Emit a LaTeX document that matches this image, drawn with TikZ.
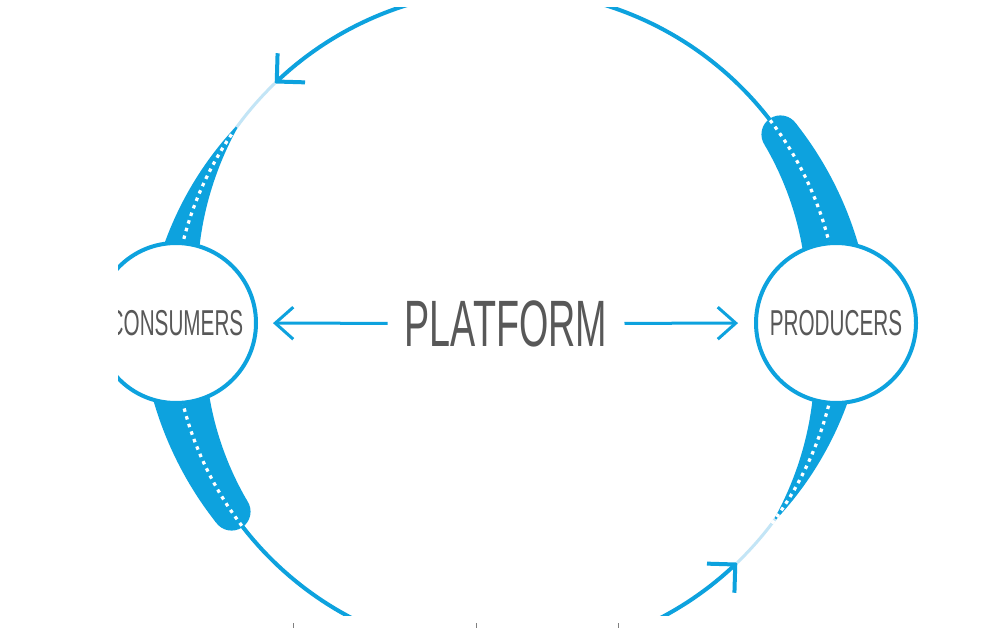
\documentclass[tikz,border=0pt]{standalone}
\usepackage{fontspec}
\newfontfamily\condfont{Liberation Sans}[FakeStretch=0.575]
\usetikzlibrary{arrows.meta}
\definecolor{pblue}{HTML}{0DA2DE}
\definecolor{plight}{HTML}{C3E5F6}
\definecolor{ptext}{HTML}{585858}
\tikzset{
  ring/.style={line width=4pt, draw=pblue},
  ringarrow/.style={ring, -{Straight Barb[length=20pt,width=40pt]}},
  flowarrow/.style={line width=3pt, draw=pblue, -{Straight Barb[length=18pt,width=32pt]}},
  lightseg/.style={line width=3pt, draw=plight},
  dots/.style={line width=3.2pt, draw=white, dash pattern=on 3.5pt off 4.5pt},
  band/.style={fill=pblue},
  party/.style={circle, draw=pblue, line width=4pt, fill=white, minimum size=160pt,
    inner sep=0pt, text=ptext, font=\condfont\fontsize{36}{40}\selectfont},
  title/.style={text=ptext, inner xsep=17pt, inner ysep=0pt,
    font=\condfont\fontsize{65.6}{70}\selectfont},
  edgetick/.style={line width=0.9pt, draw=gray},
}
\begin{document}
\begin{tikzpicture}[x=1pt, y=-1pt]
\useasboundingbox[fill=white] (0,0) rectangle (1000,628);
\begin{scope}
\clip (118,8) rectangle (919,615);
% main arcs
\draw[ringarrow] plot[domain=37:134, samples=80, variable=\t]
  ({506+333*cos(\t)},{323-333*sin(\t)});
\draw[ringarrow] plot[domain=217:314, samples=80, variable=\t]
  ({506+333*cos(\t)},{323-333*sin(\t)});
% light segments
\draw[lightseg] plot[domain=134:145, samples=12, variable=\t]
  ({506+333*cos(\t)},{323-333*sin(\t)});
\draw[lightseg] plot[domain=-46:-35, samples=12, variable=\t]
  ({506+333*cos(\t)},{323-333*sin(\t)});
% tapered bands
\fill[band] plot[domain=144:172, samples=40, variable=\t]
  ({506+(333+1+19*(\t-144)/26)*cos(\t)},{323-(333+1+19*(\t-144)/26)*sin(\t)})
  -- plot[domain=172:144, samples=40, variable=\t]
  ({506+(333-1-19*(\t-144)/26)*cos(\t)},{323-(333-1-19*(\t-144)/26)*sin(\t)}) -- cycle;
\fill[band] plot[domain=-36:-8, samples=40, variable=\t]
  ({506+(333+1+19*(-36-\t)/-26)*cos(\t)},{323-(333+1+19*(-36-\t)/-26)*sin(\t)})
  -- plot[domain=-8:-36, samples=40, variable=\t]
  ({506+(333-1-19*(-36-\t)/-26)*cos(\t)},{323-(333-1-19*(-36-\t)/-26)*sin(\t)}) -- cycle;
% thick bands with rounded ends
\fill[band] plot[domain=8:34.5, samples=40, variable=\t]
  ({506+(333+19+10*(34.5-\t)/24.5)*cos(\t)},{323-(333+19+10*(34.5-\t)/24.5)*sin(\t)})
  -- plot[domain=34.5:8, samples=40, variable=\t]
  ({506+(333-19-10*(34.5-\t)/24.5)*cos(\t)},{323-(333-19-10*(34.5-\t)/24.5)*sin(\t)}) -- cycle;
\fill[band] ({506+333*cos(34.5)},{323-333*sin(34.5)}) circle[radius=19pt];
\fill[band] plot[domain=188:214.5, samples=40, variable=\t]
  ({506+(333+19+10*(214.5-\t)/24.5)*cos(\t)},{323-(333+19+10*(214.5-\t)/24.5)*sin(\t)})
  -- plot[domain=214.5:188, samples=40, variable=\t]
  ({506+(333-19-10*(214.5-\t)/24.5)*cos(\t)},{323-(333-19-10*(214.5-\t)/24.5)*sin(\t)}) -- cycle;
\fill[band] ({506+333*cos(214.5)},{323-333*sin(214.5)}) circle[radius=19pt];
% white dotted centre lines
\draw[dots] plot[domain=145.5:168, samples=30, variable=\t]
  ({506+333*cos(\t)},{323-333*sin(\t)});
\draw[dots] plot[domain=-37:-12, samples=30, variable=\t]
  ({506+333*cos(\t)},{323-333*sin(\t)});
\draw[dots] plot[domain=37.5:12, samples=30, variable=\t]
  ({506+333*cos(\t)},{323-333*sin(\t)});
\draw[dots] plot[domain=217.5:192, samples=30, variable=\t]
  ({506+333*cos(\t)},{323-333*sin(\t)});
% nodes
\node[party] (consumers) at (176,323) {CONSUMERS};
\node[party] (producers) at (836,323) {PRODUCERS};
\node[title] (platform) at (506,323.5) {PLATFORM};
\draw[flowarrow, shorten >=15pt] (platform) -- (consumers);
\draw[flowarrow, shorten >=16pt] (platform) -- (producers);
\end{scope}
% small marks at the bottom edge
\draw[edgetick] (293,623) -- (293,628);
\draw[edgetick] (476,623) -- (476,628);
\draw[edgetick] (618,623) -- (618,628);
\end{tikzpicture}
\end{document}
